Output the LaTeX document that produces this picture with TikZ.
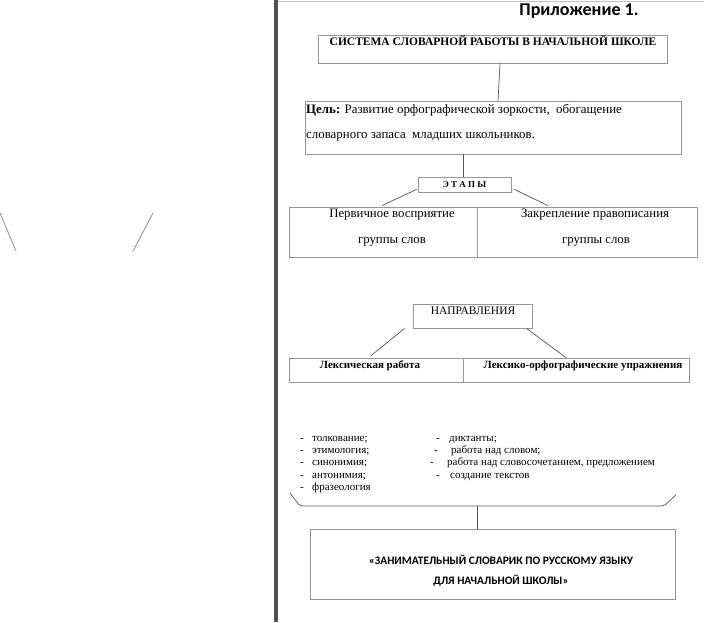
\documentclass[tikz,border=0pt]{standalone}
\usepackage{fontspec}
\setmainfont{Liberation Serif}
\newfontfamily\calib{Carlito}
\usetikzlibrary{calc}
\definecolor{boxc}{RGB}{150,150,150}
\definecolor{linec}{RGB}{85,85,85}
\definecolor{edgec}{RGB}{80,80,80}
\begin{document}
\begin{tikzpicture}[x=1pt,y=-1pt,
  box/.style={draw=boxc, line width=0.8pt, inner sep=0pt, rectangle},
  conn/.style={draw=linec, line width=0.7pt},
  txt/.style={inner sep=0pt, anchor=mid, text=black},
  tl/.style={inner sep=0pt, anchor=mid west, text=black, font=\fontsize{11}{13}\selectfont},
]
\useasboundingbox (0,0) rectangle (704,622);
\fill[white] (0,0) rectangle (704,622);
% page edge
\draw[line width=4pt, edgec] (276,0) -- (276,622);
\draw[line width=1pt, gray!50] (278,1) -- (704,1);
% stray lines on the left
\coordinate (s1a) at (0,213); \coordinate (s1b) at (16,251);
\coordinate (s2a) at (153,213); \coordinate (s2b) at (133,251);
\draw[conn, gray] (s1a) -- (s1b);
\draw[conn, gray] (s2a) -- (s2b);

% title
\node[txt, font=\calib\bfseries\fontsize{18}{20}\selectfont] (title) at (579,13) {Приложение 1.};

% system box
\node[box, minimum width=349pt, minimum height=28pt] (sys) at (492.5,49) {};
\node[txt, font=\bfseries\fontsize{11.5}{13}\selectfont] (systxt) at (493,43) {СИСТЕМА СЛОВАРНОЙ РАБОТЫ В НАЧАЛЬНОЙ ШКОЛЕ};

% goal box
\node[box, minimum width=376pt, minimum height=53pt] (goal) at (493,127.5) {};
\node[txt, anchor=mid west, font=\fontsize{12.9}{15}\selectfont] (goal1) at (306,111) {\textbf{Цель:} Развитие орфографической зоркости,\ \ обогащение};
\node[txt, anchor=mid west, font=\fontsize{12.9}{15}\selectfont] (goal2) at (306,136) {словарного запаса\ \ младших школьников.};
\draw[conn] ($(sys.south)+(7.5,0)$) -- ($(goal.north)+(5,0)$);

% stages
\node[box, minimum width=93pt, minimum height=15pt, font=\bfseries\fontsize{9}{10}\selectfont] (etapy) at (464.5,184.5) {Э\ Т\ А\ П\ Ы};
\draw[conn] ($(goal.south)+(-30,0)$) -- ($(etapy.north)+(-1.5,0)$);
\node[box, minimum width=188pt, minimum height=50pt] (stL) at (383,232) {};
\node[box, minimum width=220pt, minimum height=50pt] (stR) at (587,232) {};
\node[txt, font=\fontsize{12.8}{15}\selectfont] (stL1) at (392,215) {Первичное восприятие};
\node[txt, font=\fontsize{12.8}{15}\selectfont] (stL2) at (392,241) {группы слов};
\node[txt, font=\fontsize{12.8}{15}\selectfont] (stR1) at (595,215) {Закрепление правописания};
\node[txt, font=\fontsize{12.8}{15}\selectfont] (stR2) at (596,241) {группы слов};
\draw[conn] ($(etapy.south west)+(-1,-3)$) -- ($(stL.north)+(-1,-1)$);
\draw[conn] ($(etapy.south east)+(3,-3)$) -- ($(stR.north)+(-39,-1)$);

% directions
\node[box, minimum width=119pt, minimum height=24pt] (napr) at (472.5,316) {};
\node[txt, font=\fontsize{11.5}{13}\selectfont] (naprtxt) at (473,312) {НАПРАВЛЕНИЯ};
\node[box, minimum width=174pt, minimum height=24pt] (dirL) at (376,370) {};
\node[box, minimum width=226pt, minimum height=24pt] (dirR) at (576,370) {};
\node[txt, font=\bfseries\fontsize{11}{13}\selectfont] (dirL1) at (370,366) {Лексическая работа};
\node[txt, font=\bfseries\fontsize{11}{13}\selectfont] (dirR1) at (583,366) {Лексико-орфографические упражнения};
\draw[conn] ($(napr.south west)+(-8,0)$) -- ($(dirL.north)+(-5,-2)$);
\draw[conn] ($(napr.south east)+(-6,0)$) -- ($(dirR.north)+(-10,0)$);

% lists
\foreach \y/\t [count=\i] in {439/толкование;, 451/этимология;, 463/синонимия;, 476/антонимия;, 488/фразеология}{
  \node[tl] (ld\i) at (300,\y) {-};
  \node[tl] (lt\i) at (312,\y) {\t};
}
\foreach \y/\dx/\tx/\t [count=\i] in {439/436/449/диктанты;, 451/434/451/работа над словом;, 463/430/447/{работа над словосочетанием, предложением}, 476/436/450/создание текстов}{
  \node[tl] (rd\i) at (\dx,\y) {-};
  \node[tl] (rt\i) at (\tx,\y) {\t};
}

% brace
\coordinate (bl) at (290,493);
\coordinate (blc) at (300,506);
\coordinate (brc) at (664,506);
\coordinate (br) at (676,495);
\coordinate (bm) at (477,506);
\draw[conn, rounded corners=2pt] (bl) -- (blc) -- (brc) -- (br);

% final box
\node[box, minimum width=365pt, minimum height=70pt] (fin) at (492.5,564) {};
\node[txt, font=\calib\bfseries\fontsize{11.4}{13}\selectfont] (fin1) at (501,562) {«ЗАНИМАТЕЛЬНЫЙ СЛОВАРИК ПО РУССКОМУ ЯЗЫКУ};
\node[txt, font=\calib\bfseries\fontsize{11.4}{13}\selectfont] (fin2) at (501,582) {ДЛЯ НАЧАЛЬНОЙ ШКОЛЫ»};
\draw[conn] (bm) -- ($(fin.north)+(-15.5,0)$);
\end{tikzpicture}
\end{document}
